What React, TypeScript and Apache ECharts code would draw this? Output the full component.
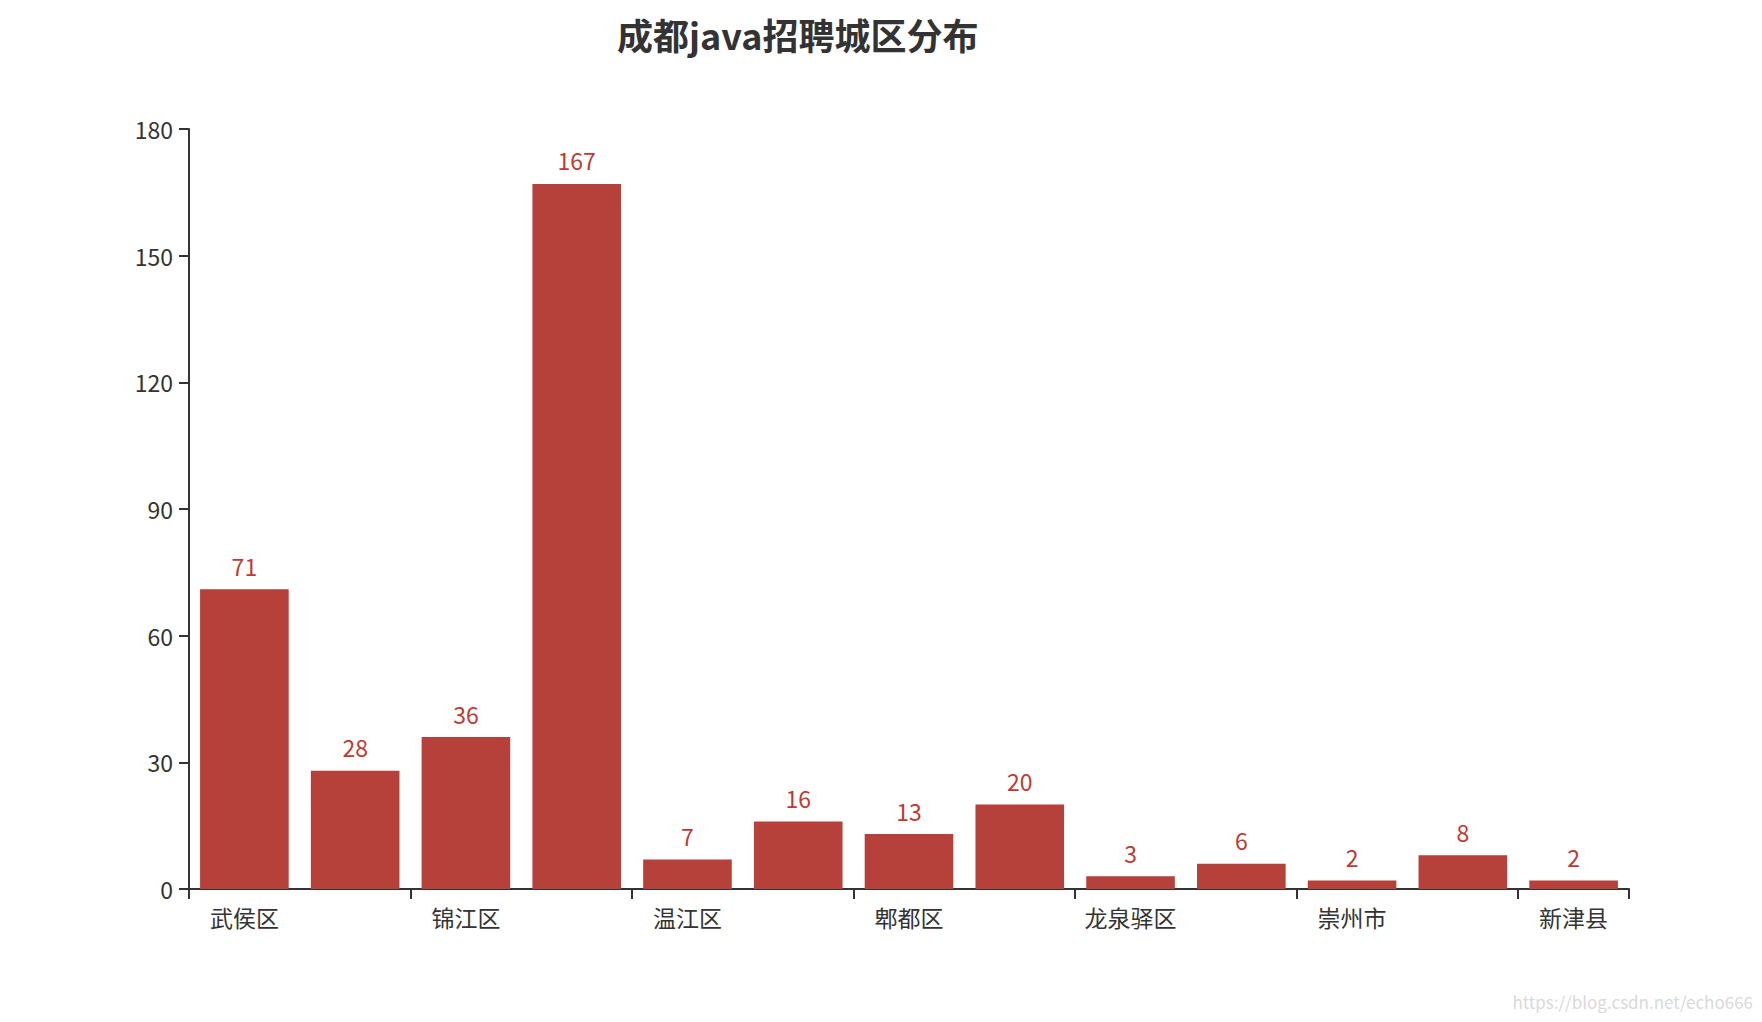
import { useRef, useEffect } from 'react'
import * as echarts from 'echarts'

const districts = ['武侯区', '青羊区', '锦江区', '高新区', '温江区', '金牛区', '郫都区', '成华区', '龙泉驿区', '双流区', '崇州市', '天府新区', '新津县']
const jobCounts = [71, 28, 36, 167, 7, 16, 13, 20, 3, 6, 2, 8, 2]

const FONT = '"Noto Sans CJK SC", "Noto Sans", sans-serif'

export default function App() {
  const chartRef = useRef<HTMLDivElement>(null)

  useEffect(() => {
    document.body.style.margin = '0'
    if (!chartRef.current) return
    const chart = echarts.init(chartRef.current, null, { renderer: 'svg' })

    chart.setOption({
      animation: false,
      title: {
        text: '成都java招聘城区分布',
        left: 612,
        top: 11,
        textStyle: { fontFamily: FONT, fontSize: 36, fontWeight: 'bold', color: '#333' },
      },
      grid: { left: 189, right: 133, top: 129, bottom: 133 },
      xAxis: {
        type: 'category',
        data: districts,
        axisLine: { lineStyle: { color: '#333', width: 2 } },
        axisTick: { show: true, interval: 1, length: 10, lineStyle: { color: '#333', width: 2 } },
        axisLabel: { interval: 1, margin: 16, fontSize: 23, color: '#333', fontFamily: FONT },
      },
      yAxis: {
        type: 'value',
        min: 0,
        max: 180,
        interval: 30,
        splitLine: { show: false },
        axisLine: { show: true, lineStyle: { color: '#333', width: 2 } },
        axisTick: { show: true, length: 10, lineStyle: { color: '#333', width: 2 } },
        axisLabel: { margin: 16, fontSize: 23, color: '#333', fontFamily: FONT },
      },
      series: [
        {
          type: 'bar',
          data: jobCounts,
          barCategoryGap: '20%',
          itemStyle: { color: '#b5413a' },
          label: {
            show: true,
            position: 'top',
            distance: 12,
            fontSize: 23,
            color: '#be3a33',
            fontFamily: FONT,
          },
        },
      ],
      graphic: [
        {
          type: 'text',
          right: 9,
          top: 993,
          style: {
            text: 'https://blog.csdn.net/echo666',
            fontSize: 17,
            fill: '#d9d9d9',
            fontFamily: FONT,
          },
        },
      ],
    })

    return () => chart.dispose()
  }, [])

  return <div ref={chartRef} style={{ width: 1762, height: 1022 }} />
}
